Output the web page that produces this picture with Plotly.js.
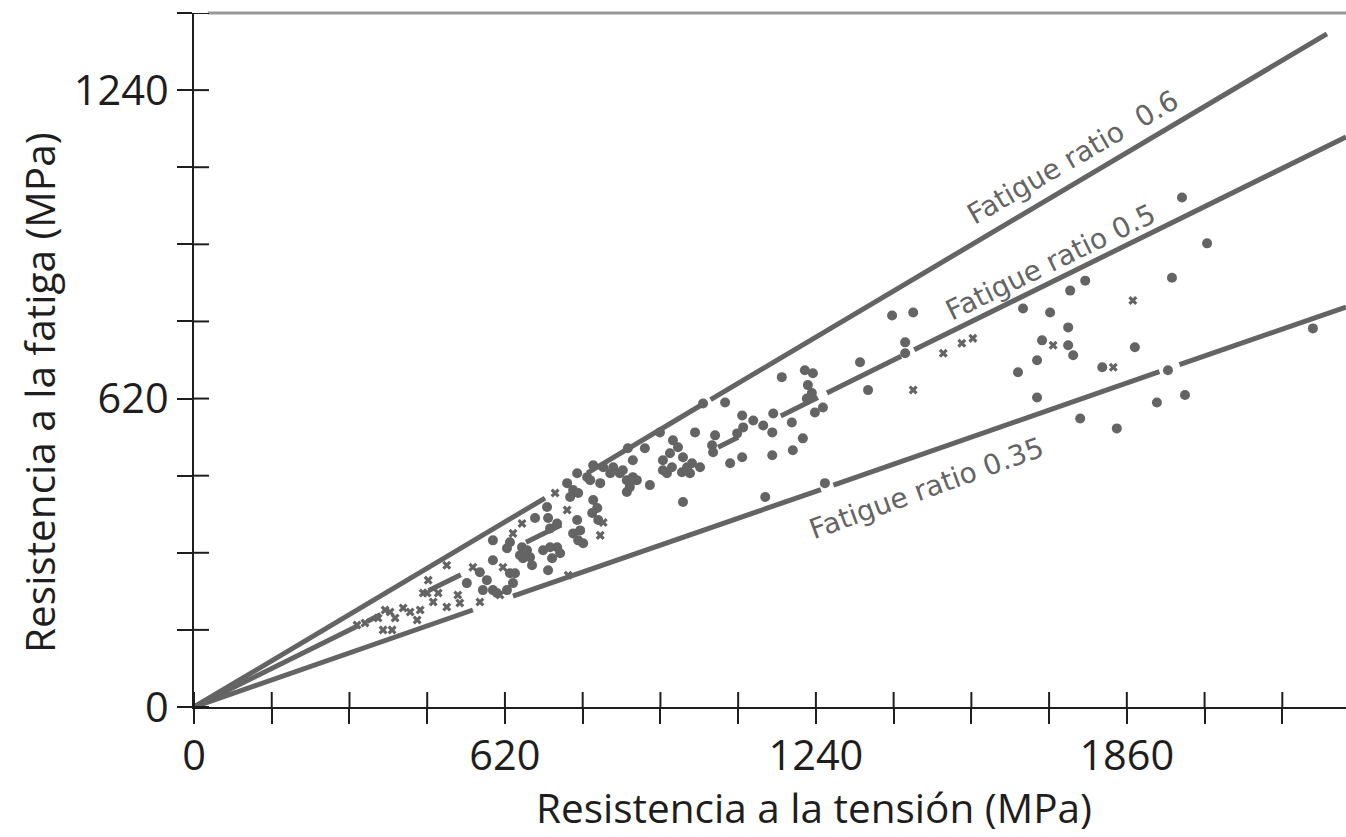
<!DOCTYPE html>
<html>
<head>
<meta charset="utf-8">
<script src="https://cdn.plot.ly/plotly-3.0.1.min.js"></script>
<style>html,body{margin:0;padding:0;overflow:hidden;background:#fff}</style>
</head>
<body>
<div id="chart" style="width:1346px;height:837px"></div>
<script>
// ---- axis ticks (MPa) ----
const xTickVals = [0,155,310,465,620,775,930,1085,1240,1395,1550,1705,1860,2015,2170];
const xTickText = ['0','','','','620','','','','1240','','','','1860','',''];
const yTickVals = [0,155,310,465,620,775,930,1085,1240,1395];
const yTickText = ['0','','','','620','','','','1240',''];
const xTitle = 'Resistencia a la tensión (MPa)';
const yTitle = 'Resistencia a la fatiga (MPa)';

// ---- fatigue-ratio reference lines (segments separated by null) ----
const ratio06X = [0, 700, null, 784, 1010, null, 1030, 2259];
const ratio06Y = [0, 420, null, 470, 606, null, 618, 1353];
const ratio05X = [0, 328, null, 345, 372, null, 468, 532, null, 662, 732, null, 1045, 1085, null, 1170, 1244, null, 1262, 1410, null, 1436, 2297];
const ratio05Y = [0, 164, null, 172, 186, null, 234, 266, null, 331, 366, null, 522, 542, null, 585, 622, null, 631, 705, null, 718, 1146];
const ratio035X = [0, 556, null, 636, 1250, null, 1275, 1925, null, 1965, 2297];
const ratio035Y = [0, 195, null, 223, 437, null, 446, 674, null, 688, 804];

// ---- test results: dots ----
const dotX = [544,570,584,576,596,604,624,636,630,624,596,704,680,706,710,724,596,630,654,650,664,670,656,696,710,724,714,730,674,640,706,
  744,756,750,766,764,784,796,816,836,830,810,790,849,863,875,796,804,794,806,764,770,756,766,776,863,869,875,865,
  935,949,975,983,989,943,975,899,929,999,1015,1059,955,965,953,935,973,993,1009,1039,1033,1035,1083,1095,1093,1115,1135,1155,
  1069,1093,1153,1153,1192,1194,1214,1172,1218,1234,1224,1232,1222,1238,909,855,883,869,1139,
  1392,1434,1418,1328,1344,1254,1258,1418,1653,1707,1747,1777,1950,1743,1691,1743,1753,1681,1643,1876,1811,1681,1767,1840,1920,1976,1942,2231,1970,2020];
const dotY = [249,271,255,235,235,229,235,249,269,319,295,402,380,380,359,369,335,331,321,305,315,301,299,315,321,321,299,309,285,269,275,
  450,436,422,430,470,462,486,482,482,470,450,456,470,456,462,416,400,390,376,376,355,349,335,329,432,450,496,520,
  496,510,502,482,470,470,412,520,552,552,610,612,536,522,482,476,472,490,482,546,526,512,550,562,586,576,566,590,
  490,502,552,506,572,516,540,663,677,671,647,631,620,592,446,476,456,442,422,
  787,793,733,693,637,602,450,711,801,793,837,857,863,763,737,727,707,697,673,723,683,622,580,560,612,627,677,761,1024,932];

// ---- test results: crosses ----
const crossX = [341,367,391,401,417,431,451,467,465,487,477,504,504,526,530,570,556,616,377,381,457,445,720,744,654,636,816,810,610,746,1494,1434,1531,1553,1713,1833,1872,325,395];
const crossY = [169,179,191,179,199,191,195,255,229,229,211,201,285,225,209,211,281,281,155,195,229,175,430,396,369,349,371,345,225,265,711,637,731,741,727,683,817,165,155];

const ink = '#646464';
const axisInk = '#1e1e1e';
const lineStyle = {color: ink, width: 5};

const traces = [
  {x: ratio06X, y: ratio06Y, mode: 'lines', line: lineStyle, connectgaps: false, hoverinfo: 'skip', showlegend: false},
  {x: ratio05X, y: ratio05Y, mode: 'lines', line: lineStyle, connectgaps: false, hoverinfo: 'skip', showlegend: false},
  {x: ratio035X, y: ratio035Y, mode: 'lines', line: lineStyle, connectgaps: false, hoverinfo: 'skip', showlegend: false},
  {x: dotX, y: dotY, mode: 'markers', marker: {color: ink, size: 10, symbol: 'circle'}, showlegend: false},
  {x: crossX, y: crossY, mode: 'markers', marker: {color: ink, size: 8, symbol: 'x'}, showlegend: false}
];

const tickFont = {family: '"Open Sans", sans-serif', size: 41.5, color: axisInk};
const titleFont = {family: '"Open Sans", sans-serif', size: 40.5, color: axisInk};
const labelFont = {family: '"DejaVu Sans", sans-serif', size: 28, color: ink};

// inner half of the crossing tick marks (outer half is the axis' own ticks), one per tick value
const TICK = 15;
const innerXTicks = xTickVals.map(v => ({type: 'line', layer: 'above', xref: 'x', x0: v, x1: v,
  yref: 'y', ysizemode: 'pixel', yanchor: 0, y0: 0, y1: TICK, line: {color: axisInk, width: 2}}));
const innerYTicks = yTickVals.map(v => ({type: 'line', layer: 'above', yref: 'y', y0: v, y1: v,
  xref: 'x', xsizemode: 'pixel', xanchor: 0, x0: 0, x1: TICK, line: {color: axisInk, width: 2}}));

const layout = {
  width: 1346, height: 837,
  margin: {l: 194, r: 0, t: 13, b: 130},
  paper_bgcolor: '#fff', plot_bgcolor: '#fff',
  showlegend: false,
  xaxis: {
    range: [0, 2297], tickmode: 'array', tickvals: xTickVals, ticktext: xTickText,
    ticks: 'outside', ticklen: TICK, tickwidth: 2, tickcolor: axisInk, ticklabelstandoff: -4,
    showline: true, linecolor: axisInk, linewidth: 2, showgrid: false, zeroline: false,
    tickfont: tickFont
  },
  yaxis: {
    range: [0, 1395], tickmode: 'array', tickvals: yTickVals, ticktext: yTickText,
    ticks: 'outside', ticklen: TICK, tickwidth: 2, tickcolor: axisInk,
    showline: true, linecolor: axisInk, linewidth: 2, showgrid: false, zeroline: false,
    tickfont: tickFont
  },
  shapes: [
    {type: 'line', xref: 'paper', x0: 0.012, x1: 1, yref: 'paper', y0: 1, y1: 1, line: {color: '#999999', width: 3}}
  ].concat(innerXTicks, innerYTicks),
  annotations: [
    {x: 0.538, y: -130 / 694, xref: 'paper', yref: 'paper', xanchor: 'center', yanchor: 'bottom', text: xTitle, showarrow: false, font: titleFont},
    {x: -0.1337, y: 0.454, xref: 'paper', yref: 'paper', xanchor: 'center', yanchor: 'middle', text: yTitle, showarrow: false, textangle: -90, font: titleFont},
    {x: 1752, y: 1104, xref: 'x', yref: 'y', text: 'Fatigue ratio\u00a0\u00a00.6', showarrow: false, textangle: -30, font: labelFont},
    {x: 1707, y: 894, xref: 'x', yref: 'y', text: 'Fatigue ratio 0.5', showarrow: false, textangle: -26, font: labelFont},
    {x: 1460, y: 440, xref: 'x', yref: 'y', text: 'Fatigue ratio 0.35', showarrow: false, textangle: -20, font: labelFont}
  ]
};

Plotly.newPlot('chart', traces, layout, {displayModeBar: false, staticPlot: true});
</script>
</body>
</html>
